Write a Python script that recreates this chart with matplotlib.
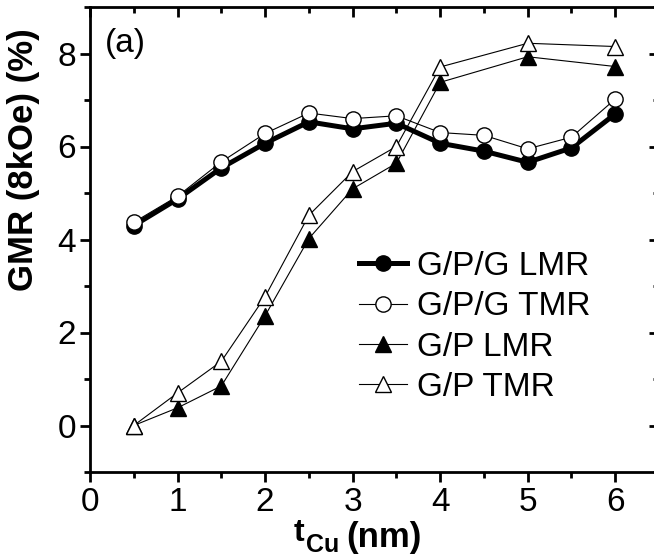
import matplotlib
matplotlib.use('Agg')
import matplotlib.pyplot as plt
from matplotlib.ticker import MultipleLocator, NullFormatter

plt.rcParams['font.family'] = ['Liberation Sans', 'DejaVu Sans']

# Cu thickness (nm)
t_gpg = [0.5, 1, 1.5, 2, 2.5, 3, 3.5, 4, 4.5, 5, 5.5, 6]
gpg_lmr = [4.30, 4.87, 5.54, 6.07, 6.53, 6.38, 6.50, 6.07, 5.90, 5.66, 5.97, 6.70]
gpg_tmr = [4.37, 4.93, 5.67, 6.28, 6.72, 6.60, 6.66, 6.30, 6.24, 5.95, 6.20, 7.02]

t_gp = [0.5, 1, 1.5, 2, 2.5, 3, 3.5, 4, 5, 6]
gp_lmr = [0.0, 0.38, 0.85, 2.36, 4.02, 5.09, 5.64, 7.38, 7.93, 7.72]
gp_tmr = [0.0, 0.70, 1.38, 2.77, 4.52, 5.46, 6.00, 7.71, 8.22, 8.15]

W, H = 654, 559
fig = plt.figure(figsize=(W / 100, H / 100), dpi=100)
ax = fig.add_axes([90 / W, 87 / H, 569 / W, 465 / H])

ax.plot(t_gpg, gpg_lmr, '-o', color='black', lw=3.6, ms=11,
        mfc='black', mec='black', label='G/P/G LMR')
ax.plot(t_gpg, gpg_tmr, '-o', color='black', lw=0.8, ms=11,
        mfc='white', mec='black', mew=1.0, label='G/P/G TMR')
ax.plot(t_gp, gp_lmr, '-^', color='black', lw=0.8, ms=12,
        mfc='black', mec='black', label='G/P LMR')
ax.plot(t_gp, gp_tmr, '-^', color='black', lw=0.8, ms=12,
        mfc='white', mec='black', mew=1.0, label='G/P TMR')

ax.set_xlim(0, 6.5)
ax.set_ylim(-1, 9)
ax.xaxis.set_major_locator(MultipleLocator(1))
ax.xaxis.set_minor_locator(MultipleLocator(0.5))
ax.yaxis.set_major_locator(MultipleLocator(2))
ax.yaxis.set_minor_locator(MultipleLocator(1))

for s in ax.spines.values():
    s.set_linewidth(2.0)
ax.tick_params(which='both', direction='out', top=False, right=False,
               labelsize=24, width=2.0)
ax.tick_params(which='major', length=7)
ax.tick_params(which='minor', length=4)
ax.tick_params(axis='x', pad=4)
ax.tick_params(axis='y', pad=3)

# mirrored ticks on top and right, pointing inside
top = ax.secondary_xaxis('top')
top.xaxis.set_major_locator(MultipleLocator(1))
top.xaxis.set_minor_locator(MultipleLocator(0.5))
top.xaxis.set_major_formatter(NullFormatter())
right = ax.secondary_yaxis('right')
right.yaxis.set_major_locator(MultipleLocator(2))
right.yaxis.set_minor_locator(MultipleLocator(1))
right.yaxis.set_major_formatter(NullFormatter())
for sec in (top, right):
    sec.tick_params(which='both', direction='in', width=2.0)
    sec.tick_params(which='major', length=7)
    sec.tick_params(which='minor', length=4)

# x label: t with a large "Cu" subscript
fig.text(294 / W, 1 - 541 / H, 't', fontsize=23, fontweight='bold')
fig.text(306 / W, 1 - 552 / H, 'Cu', fontsize=18, fontweight='bold')
fig.text(346 / W, 1 - 547 / H, '(nm)', fontsize=25, fontweight='bold')

# y label sits above the axes centre in the original
fig.text(24 / W, 1 - 160 / H, 'GMR (8kOe) (%)', fontsize=25, fontweight='bold',
         rotation=90, ha='center', va='center')

ax.text(0.027, 0.955, '(a)', transform=ax.transAxes, fontsize=24, va='top')

ax.legend(loc='upper left', bbox_to_anchor=(0.472, 0.475), frameon=False,
          fontsize=24, handlelength=1.45, handletextpad=0.3, labelspacing=0.28,
          borderpad=0, borderaxespad=0)

fig.savefig('out.png', dpi=100)
